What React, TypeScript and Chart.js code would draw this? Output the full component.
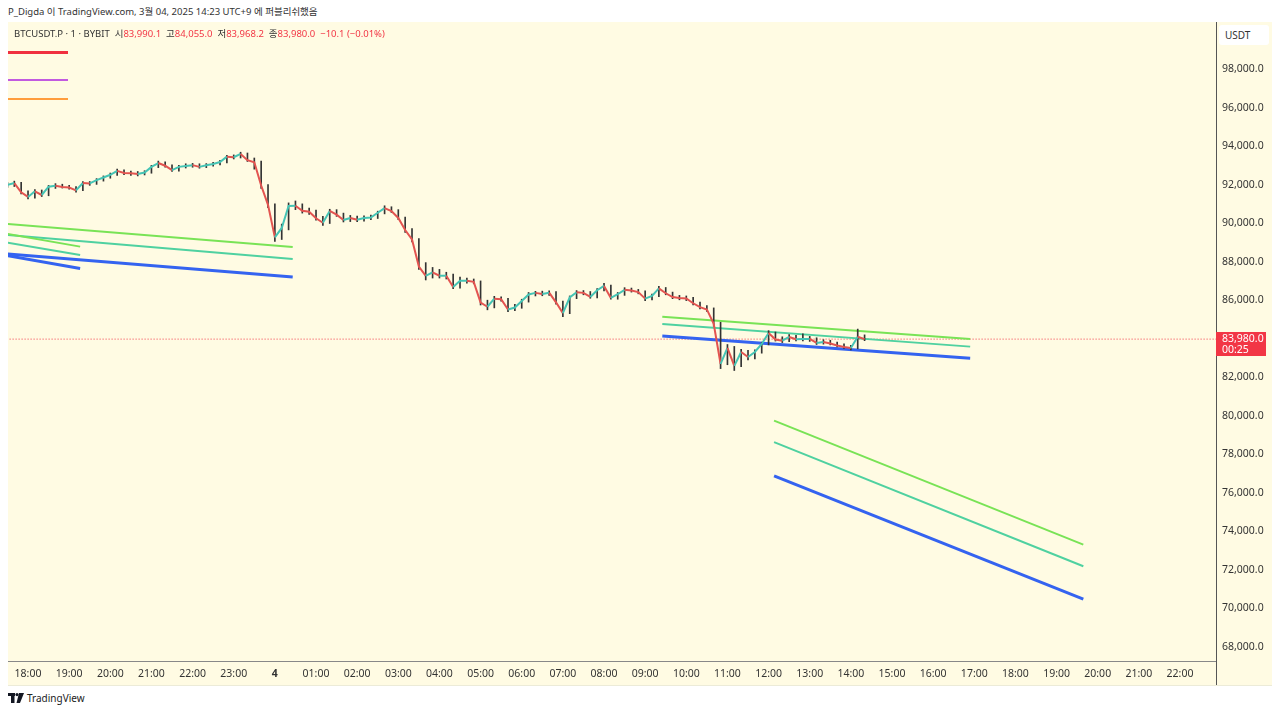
import React, { useEffect, useRef } from "react";
import { Chart, registerables } from "chart.js";

Chart.register(...registerables);

// ---------- DATA ----------
// candle times: minutes from 18:00 (Mar 3), 10-minute buckets starting 17:30
const candleStartMinute = -30;
const candleStepMinutes = 10;

const closes = [
  91980, 92080, 91600, 91360, 91650, 91460, 91890, 91940, 91880, 91850,
  91700, 92080, 92060, 92230, 92370, 92510, 92710, 92600, 92590, 92550,
  92630, 92920, 93120, 92980, 92750, 92920, 92970, 93010, 92920, 93000,
  93070, 93170, 93450, 93420, 93590, 93270, 93160, 91950, 90950, 89260,
  89750, 90890, 90900, 90640, 90590, 90250, 90020, 90630, 90440, 90160,
  90270, 90180, 90270, 90290, 90540, 90780, 90630, 90270, 89640, 89150,
  87750, 87260, 87440, 87270, 87270, 86690, 87010, 87010, 86950, 85880,
  85660, 86080, 86050, 85520, 85620, 85960, 86300, 86380, 86320, 86390,
  85890, 85330, 86140, 86410, 86380, 86170, 86520, 86740, 86120, 86310,
  86540, 86500, 86420, 86080, 86220, 86610, 86360, 86160, 86120, 86090,
  85840, 85640, 85520, 84770, 82690, 83520, 82590, 83310, 83050, 83310,
  83730, 84300, 83960, 83900, 84090, 83970, 83990, 83990, 83780, 83830,
  83750, 83650, 83570, 83520, 84100, 83980,
];

const highs = [
  92100, 92180, 92120, 91680, 91740, 91720, 91960, 92050, 92020, 91960,
  91900, 92150, 92160, 92310, 92450, 92600, 92800, 92760, 92700, 92680,
  92720, 93000, 93220, 93180, 93020, 93000, 93080, 93100, 93080, 93090,
  93160, 93260, 93520, 93540, 93680, 93640, 93380, 93220, 92000, 91000,
  89950, 91050, 91150, 91000, 90780, 90680, 90350, 90720, 90700, 90520,
  90400, 90360, 90380, 90420, 90620, 90900, 90850, 90700, 90320, 89720,
  89200, 87950, 87700, 87600, 87450, 87350, 87200, 87150, 87100, 87000,
  86000, 86200, 86180, 86100, 85780, 86050, 86400, 86460, 86470, 86480,
  86450, 85950, 86220, 86500, 86500, 86450, 86600, 86880, 86780, 86400,
  86650, 86630, 86560, 86480, 86320, 86720, 86660, 86420, 86250, 86220,
  86150, 85900, 85720, 85600, 84850, 83700, 83600, 83450, 83400, 83420,
  83820, 84420, 84350, 84100, 84220, 84180, 84250, 84120, 84050, 83950,
  83920, 83820, 83730, 83660, 84500, 84200,
];

const lows = [
  91850, 91900, 91520, 91250, 91300, 91380, 91420, 91800, 91820, 91760,
  91610, 91680, 91960, 92010, 92180, 92330, 92470, 92520, 92480, 92450,
  92500, 92590, 92880, 92900, 92680, 92700, 92860, 92900, 92850, 92880,
  92960, 93020, 93130, 93330, 93380, 93200, 92800, 91800, 90800, 89050,
  89150, 89650, 90700, 90520, 90450, 90150, 89880, 89980, 90350, 90060,
  90080, 90080, 90100, 90180, 90240, 90480, 90550, 90180, 89520, 89020,
  87600, 87050, 87150, 87150, 87100, 86600, 86620, 86880, 86850, 85750,
  85500, 85600, 85950, 85400, 85450, 85580, 85900, 86220, 86230, 86250,
  85800, 85150, 85300, 86080, 86280, 86100, 86120, 86480, 86050, 86050,
  86250, 86420, 86330, 85980, 86010, 86180, 86280, 86080, 86020, 85980,
  85760, 85550, 85420, 84650, 82450, 82650, 82350, 82550, 82900, 82950,
  83250, 83680, 83880, 83800, 83850, 83880, 83880, 83860, 83700, 83720,
  83680, 83580, 83500, 83420, 83480, 83900,
];

// trend lines: [minute, price] endpoints
const greenLeftLong = [[-30, 89960], [386, 88760]];
const greenLeftShort = [[-30, 89440], [76, 88780]];
const greenMid = [[925, 85140], [1374, 83990]];
const greenLow = [[1088, 79750], [1539, 73310]];
const tealLeftLong = [[-30, 89390], [386, 88140]];
const tealLeftShort = [[-30, 88990], [76, 88350]];
const tealMid = [[925, 84770], [1374, 83590]];
const tealLow = [[1088, 78630], [1539, 72190]];
const blueLeftLong = [[-30, 88400], [386, 87200]];
const blueLeftShort = [[-30, 88310], [76, 87640]];
const blueMid = [[925, 84140], [1374, 82990]];
const blueLow = [[1088, 76880], [1539, 70490]];

const lastPrice = 83980;

const timeTickLabels = [
  "18:00", "19:00", "20:00", "21:00", "22:00", "23:00", "4",
  "01:00", "02:00", "03:00", "04:00", "05:00", "06:00", "07:00", "08:00",
  "09:00", "10:00", "11:00", "12:00", "13:00", "14:00", "15:00", "16:00",
  "17:00", "18:00", "19:00", "20:00", "21:00", "22:00",
];

const priceTicks = [
  68000, 70000, 72000, 74000, 76000, 78000, 80000, 82000,
  84000, 86000, 88000, 90000, 92000, 94000, 96000, 98000,
];

// ---------- STYLE ----------
const FONT = "'Noto Sans', 'Noto Sans CJK KR', sans-serif";
const CREAM = "#fffbe3";
const UP = "#45c4b5";
const DOWN = "#e35450";
const GREEN = "#79e356";
const TEAL = "#4fd1a0";
const BLUE = "#3463f0";
const RED = "#f23645";

function seg(points: number[][], color: string, width: number) {
  return {
    type: "line" as const,
    data: points.map((p) => ({ x: p[0], y: p[1] })),
    borderColor: color,
    borderWidth: width,
    pointRadius: 0,
    fill: false,
    tension: 0,
  };
}

export default function App() {
  const ref = useRef<HTMLCanvasElement | null>(null);

  useEffect(() => {
    if (!ref.current) return;
    const times = closes.map((_, i) => candleStartMinute + i * candleStepMinutes);
    const chart = new Chart(ref.current, {
      type: "line",
      data: {
        datasets: [
          {
            type: "line",
            data: closes.map((c, i) => ({ x: times[i], y: c })),
            borderWidth: 2,
            pointRadius: 0,
            tension: 0,
            borderColor: UP,
            segment: {
              borderColor: (ctx: any) => (ctx.p1.parsed.y >= ctx.p0.parsed.y ? UP : DOWN),
            },
          } as any,
          {
            type: "bar",
            data: closes.map((_, i) => ({ x: times[i], y: [lows[i], highs[i]] })),
            backgroundColor: "#333333",
            barThickness: 1,
            borderWidth: 0,
          } as any,
          seg(greenLeftLong, GREEN, 2),
          seg(greenLeftShort, GREEN, 2),
          seg(greenMid, GREEN, 2),
          seg(greenLow, GREEN, 2),
          seg(tealLeftLong, TEAL, 2),
          seg(tealLeftShort, TEAL, 2),
          seg(tealMid, TEAL, 2),
          seg(tealLow, TEAL, 2),
          seg(blueLeftLong, BLUE, 3),
          seg(blueLeftShort, BLUE, 3),
          seg(blueMid, BLUE, 3),
          seg(blueLow, BLUE, 3),
          {
            type: "line",
            data: [
              { x: -40, y: lastPrice },
              { x: 1800, y: lastPrice },
            ],
            borderColor: RED,
            borderWidth: 1,
            borderDash: [1, 2],
            pointRadius: 0,
          } as any,
        ],
      },
      options: {
        animation: false,
        responsive: false,
        devicePixelRatio: 1,
        layout: { padding: 0 },
        plugins: { legend: { display: false }, tooltip: { enabled: false } },
        scales: {
          x: {
            type: "linear",
            min: -29.2,
            max: 1732.5,
            offset: false,
            grid: { display: false, drawTicks: false },
            border: { display: false },
            afterBuildTicks: (scale: any) => {
              scale.ticks = timeTickLabels.map((_, i) => ({ value: i * 60 }));
            },
            afterFit: (scale: any) => {
              scale.height = 24;
              scale.paddingLeft = 0;
              scale.paddingRight = 0;
            },
            ticks: {
              autoSkip: false,
              maxRotation: 0,
              padding: 7,
              color: "#333",
              font: (c: any) => ({
                family: FONT,
                size: 10.5,
                weight: c.tick && c.tick.value === 360 ? "bold" : "normal",
              }),
              callback: (v: any) => timeTickLabels[Math.round(Number(v) / 60)] ?? "",
            },
          },
          y: {
            type: "linear",
            position: "right",
            min: 67273,
            max: 100439,
            grid: { display: false, drawTicks: false },
            border: { display: false },
            afterBuildTicks: (scale: any) => {
              scale.ticks = priceTicks.map((v) => ({ value: v }));
            },
            afterFit: (scale: any) => {
              scale.width = 56;
              scale.paddingTop = 0;
              scale.paddingBottom = 0;
            },
            ticks: {
              padding: 6,
              color: "#333",
              font: { family: FONT, size: 10.5 },
              callback: (v: any) =>
                Number(v).toLocaleString("en-US", { minimumFractionDigits: 1, maximumFractionDigits: 1 }),
            },
          },
        },
      } as any,
    });
    return () => chart.destroy();
  }, []);

  return (
    <div
      style={{
        position: "absolute",
        left: 0,
        top: 0,
        width: 1280,
        height: 712,
        background: "#fff",
        fontFamily: FONT,
        overflow: "hidden",
      }}
    >
      <div style={{ position: "absolute", left: 8, top: 4, fontSize: 9.5, color: "#333", whiteSpace: "nowrap" }}>
        P_Digda 이 TradingView.com, 3월 04, 2025 14:23 UTC+9 에 퍼블리쉬했음
      </div>
      <div
        style={{
          position: "absolute",
          left: 8,
          top: 22,
          width: 1264,
          height: 663,
          background: CREAM,
        }}
      >
        <canvas ref={ref} width={1264} height={663} style={{ display: "block" }} />
      </div>
      {/* separators */}
      <div style={{ position: "absolute", left: 1216, top: 22, width: 1, height: 663, background: "#555" }} />
      <div style={{ position: "absolute", left: 8, top: 661, width: 1208, height: 1, background: "#888" }} />
      <div style={{ position: "absolute", left: 8, top: 685, width: 1264, height: 1, background: "#ecebd8" }} />
      {/* OHLC header */}
      <div style={{ position: "absolute", left: 14, top: 26, fontSize: 9.5, color: "#333", whiteSpace: "nowrap" }}>
        BTCUSDT.P · 1 · BYBIT&nbsp;&nbsp;시<span style={{ color: RED }}>83,990.1</span>&nbsp;&nbsp;고
        <span style={{ color: RED }}>84,055.0</span>&nbsp;&nbsp;저<span style={{ color: RED }}>83,968.2</span>
        &nbsp;&nbsp;종<span style={{ color: RED }}>83,980.0</span>&nbsp;&nbsp;
        <span style={{ color: RED }}>−10.1 (−0.01%)</span>
      </div>
      {/* indicator legend lines */}
      <div style={{ position: "absolute", left: 8, top: 51, width: 60, height: 3, background: "#f0303f" }} />
      <div style={{ position: "absolute", left: 8, top: 79, width: 60, height: 2, background: "#c25ae0" }} />
      <div style={{ position: "absolute", left: 8, top: 98, width: 60, height: 2, background: "#ff9d3d" }} />
      {/* USDT box */}
      <div
        style={{
          position: "absolute",
          left: 1219,
          top: 25,
          width: 50,
          height: 20,
          background: "#fff",
          borderRadius: 3,
          fontSize: 10,
          color: "#333",
          lineHeight: "20px",
          paddingLeft: 6,
          boxSizing: "border-box",
        }}
      >
        USDT
      </div>
      {/* last price label */}
      <div
        style={{
          position: "absolute",
          left: 1216,
          top: 332,
          width: 50,
          height: 24,
          background: RED,
          color: "#fff",
          fontSize: 10.5,
          lineHeight: "11px",
          padding: "1px 0 0 6px",
          boxSizing: "border-box",
        }}
      >
        <div>83,980.0</div>
        <div>00:25</div>
      </div>
      {/* TradingView logo */}
      <div style={{ position: "absolute", left: 8, top: 691, display: "flex", alignItems: "center", gap: 3 }}>
        <svg width="16" height="10" viewBox="0 0 16 10">
          <rect x="0" y="0" width="7" height="3" fill="#131722" />
          <rect x="3" y="0" width="3.5" height="10" fill="#131722" />
          <circle cx="9" cy="1.6" r="1.6" fill="#131722" />
          <polygon points="11,0 16,0 12,10 8.5,10" fill="#131722" />
        </svg>
        <span style={{ fontSize: 10, color: "#222" }}>TradingView</span>
      </div>
    </div>
  );
}
